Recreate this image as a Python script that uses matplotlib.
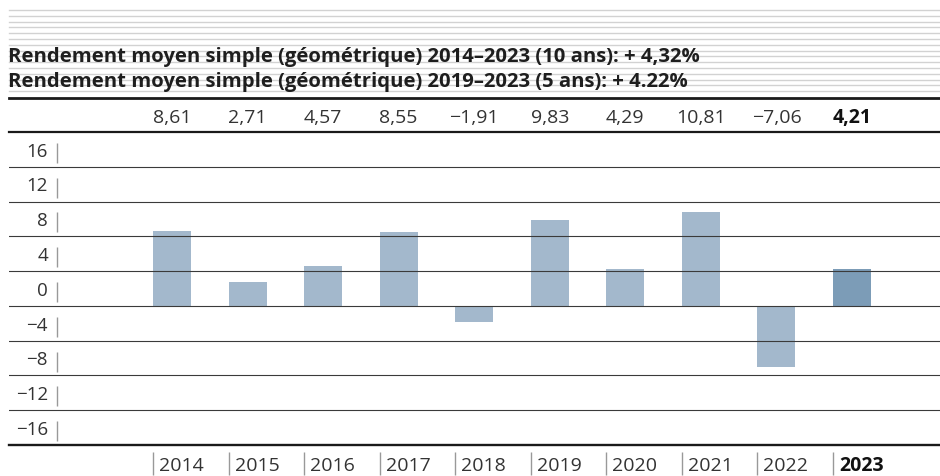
import matplotlib
matplotlib.use("Agg")
import matplotlib.pyplot as plt
from matplotlib.lines import Line2D

plt.rcParams['font.family'] = ['Open Sans', 'DejaVu Sans']

# Data
years = ['2014', '2015', '2016', '2017', '2018', '2019', '2020', '2021', '2022', '2023']
returns = [8.61, 2.71, 4.57, 8.55, -1.91, 9.83, 4.29, 10.81, -7.06, 4.21]
value_labels = ['8,61', '2,71', '4,57', '8,55', '\u22121,91', '9,83', '4,29', '10,81', '\u22127,06', '4,21']
y_ticks = [16, 12, 8, 4, 0, -4, -8, -12, -16]
y_tick_labels = ['16', '12', '8', '4', '0', '\u22124', '\u22128', '\u221212', '\u221216']
titles = [
    'Rendement moyen simple (géométrique) 2014\u20132023 (10 ans): + 4,32%',
    'Rendement moyen simple (géométrique) 2019\u20132023 (5 ans): + 4.22%',
]

W, H = 940, 477
light = '#a3b8cc'
dark = '#7c9cb7'
txt = '#333333'

fig = plt.figure(figsize=(W / 100, H / 100), dpi=100)

# axes: x pixels 9..940, y pixels 133 (value 20) .. 446 (value -16)
ax = fig.add_axes([9 / W, 1 - 446 / H, 1 - 9 / W, (446 - 133) / H])
ymin, ymax = -16, 20
step = 75.56  # px per category
x0px = 172    # centre of first bar in px
ax.set_xlim(-(x0px - 9) / step, 9 + (W - 852) / step)
ax.set_ylim(ymin, ymax)
ppu = (446 - 133) / (ymax - ymin)


def px_x(px):
    return (px - x0px) / step


xs = list(range(len(years)))
colors = [light] * (len(years) - 1) + [dark]
ax.bar(xs, returns, width=38 / step, color=colors, zorder=2)

# horizontal grid lines
for v in y_ticks[:-1]:
    ax.axhline(v, color='#3a3a3a', lw=0.8, zorder=3)

for s in ['left', 'right']:
    ax.spines[s].set_visible(False)
ax.spines['top'].set_linewidth(1.6)
ax.spines['bottom'].set_linewidth(1.7)
ax.spines['top'].set_color('#1a1a1a')
ax.spines['bottom'].set_color('#1a1a1a')
ax.set_xticks([])
ax.set_yticks([])

# y labels with small vertical ticks
for v, lab in zip(y_ticks, y_tick_labels):
    ax.text(px_x(48), v + 1.85, lab, ha='right', va='center', fontsize=13.5, color=txt)
    ax.plot([px_x(57), px_x(57)], [v + 0.45, v + 2.75], color='#999999', lw=1.0,
            solid_capstyle='butt')

# values above the chart
for i, lab in enumerate(value_labels):
    ax.text(i, ymax + (133 - 118) / ppu, lab, ha='center', va='center', fontsize=14,
            color='#111111' if i == len(years) - 1 else txt,
            fontweight='bold' if i == len(years) - 1 else 'normal', clip_on=False)

# year labels below
for i, yr in enumerate(years):
    left = i - 19 / step
    ax.plot([left, left], [ymin - (453 - 446) / ppu, ymin - (476 - 446) / ppu],
            color='#999999', lw=1.0, clip_on=False, solid_capstyle='butt')
    ax.text(left + 6 / step, ymin - (466 - 446) / ppu, yr, ha='left', va='center',
            fontsize=14, color='#111111' if i == len(years) - 1 else txt,
            fontweight='bold' if i == len(years) - 1 else 'normal', clip_on=False)

# header stripes
y = 11
while y < 95:
    fig.add_artist(Line2D([9 / W, 1], [1 - y / H, 1 - y / H], color='#d2d2d2', lw=1.0))
    y += 5.8

# thick rule under titles
fig.add_artist(Line2D([9 / W, 1], [1 - 99 / H, 1 - 99 / H], color='#1a1a1a', lw=2.0))

for t, ypx in zip(titles, [57, 82]):
    fig.text(8 / W, 1 - ypx / H, t, ha='left', va='center', fontsize=14.6,
             fontweight='bold', color='#1e1e1e')

fig.savefig('out.png', dpi=100)
